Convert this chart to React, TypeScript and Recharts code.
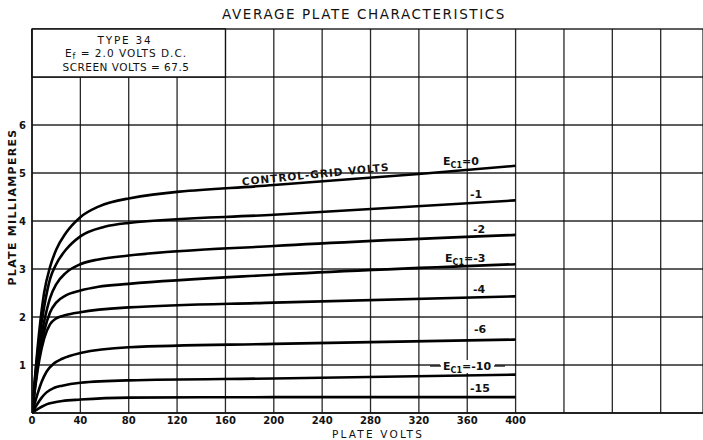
import React from 'react';
import {
  LineChart,
  Line,
  XAxis,
  YAxis,
  CartesianGrid,
  ReferenceArea,
} from 'recharts';

// plate volts / plate milliamperes
const ec0: [number, number][] = [
  [0, 0], [3, 0.9], [6, 1.7], [10, 2.5], [15, 3.05], [20, 3.4], [28, 3.75],
  [40, 4.08], [55, 4.3], [80, 4.47], [200, 4.75], [320, 4.98], [400, 5.15],
];
const ec1: [number, number][] = [
  [0, 0], [3, 0.85], [6, 1.55], [10, 2.2], [15, 2.8], [20, 3.1], [28, 3.4],
  [40, 3.68], [60, 3.88], [80, 3.96], [200, 4.13], [400, 4.43],
];
const ec2: [number, number][] = [
  [0, 0], [3, 0.75], [6, 1.35], [10, 1.9], [15, 2.4], [20, 2.68], [28, 2.92],
  [40, 3.1], [55, 3.2], [80, 3.28], [200, 3.48], [400, 3.71],
];
const ec3: [number, number][] = [
  [0, 0], [3, 0.65], [6, 1.2], [10, 1.7], [15, 2.1], [20, 2.3], [28, 2.45],
  [40, 2.55], [55, 2.63], [80, 2.69], [200, 2.88], [400, 3.1],
];
const ec4: [number, number][] = [
  [0, 0], [3, 0.6], [6, 1.1], [10, 1.55], [15, 1.85], [20, 1.97], [28, 2.04],
  [40, 2.1], [80, 2.2], [200, 2.3], [400, 2.43],
];
const ec6: [number, number][] = [
  [0, 0], [4, 0.35], [8, 0.65], [12, 0.86], [18, 1.03], [25, 1.13], [40, 1.25],
  [80, 1.37], [200, 1.44], [400, 1.53],
];
const ec10: [number, number][] = [
  [0, 0], [4, 0.17], [8, 0.32], [12, 0.43], [18, 0.52], [25, 0.57], [40, 0.63],
  [80, 0.68], [200, 0.72], [400, 0.8],
];
const ec15: [number, number][] = [
  [0, 0], [4, 0.07], [8, 0.13], [12, 0.18], [18, 0.22], [25, 0.25], [40, 0.28],
  [80, 0.32], [200, 0.33], [400, 0.33],
];

const curves = [ec0, ec1, ec2, ec3, ec4, ec6, ec10, ec15];

const xTicks = [0, 40, 80, 120, 160, 200, 240, 280, 320, 360, 400, 440, 480, 520];
const yTicks = [0, 1, 2, 3, 4, 5, 6, 7, 8];

const font = '"DejaVu Sans", sans-serif';
const ink = '#111';

const toPoints = (pts: [number, number][]) => pts.map(([v, i]) => ({ v, i }));

// E with "C1" subscript, then the rest of the label
function GridLabel({ x, y, rest }: { x: number; y: number; rest: string }) {
  return (
    <text x={x} y={y} fontFamily={font} fontSize={11} fontWeight="bold" fill={ink}>
      E
      <tspan fontSize={8} dy={3}>C1</tspan>
      <tspan dy={-3}>{rest}</tspan>
    </text>
  );
}

export default function App() {
  return (
    <div style={{ position: 'absolute', left: 0, top: 0, width: 703, height: 440, background: '#fff' }}>
      <LineChart
        width={703}
        height={440}
        margin={{ top: 29, right: 0, bottom: 0, left: 0 }}
      >
        <CartesianGrid stroke={ink} strokeWidth={1.3} strokeOpacity={0.9} />
        <XAxis
          dataKey="v"
          type="number"
          domain={[0, 555]}
          ticks={xTicks}
          allowDataOverflow
          height={27}
          axisLine={{ stroke: ink, strokeWidth: 1.5 }}
          tickLine={false}
          tickSize={2}
          tick={{ fontSize: 10, fontFamily: font, fontWeight: 'bold', fill: ink }}
          tickFormatter={(v: number) => (v <= 400 ? String(v) : '')}
        />
        <YAxis
          dataKey="i"
          type="number"
          domain={[0, 8]}
          ticks={yTicks}
          width={32}
          axisLine={{ stroke: ink, strokeWidth: 1.5 }}
          tickLine={false}
          tickSize={4}
          tick={{ fontSize: 10, fontFamily: font, fontWeight: 'bold', fill: ink }}
          tickFormatter={(v: number) => (v >= 1 && v <= 6 ? String(v) : '')}
        />
        <ReferenceArea
          x1={0}
          x2={160}
          y1={7}
          y2={8}
          fill="#fff"
          fillOpacity={1}
          stroke={ink}
          strokeWidth={1.3}
        />
        {curves.map((c, idx) => (
          <Line
            key={idx}
            data={toPoints(c)}
            dataKey="i"
            type="monotone"
            stroke="#000"
            strokeWidth={2.6}
            dot={false}
            isAnimationActive={false}
          />
        ))}
      </LineChart>

      <svg
        width={703}
        height={440}
        style={{ position: 'absolute', left: 0, top: 0, pointerEvents: 'none' }}
      >
        <text x={364} y={19} textAnchor="middle" fontFamily={font} fontSize={13.5} letterSpacing={1.6} fill={ink}>
          AVERAGE PLATE CHARACTERISTICS
        </text>
        <text x={378} y={438} textAnchor="middle" fontFamily={font} fontSize={10.5} letterSpacing={2.2} fill={ink}>
          PLATE VOLTS
        </text>
        <text
          transform="translate(16,207) rotate(-90)"
          textAnchor="middle"
          fontFamily={font}
          fontSize={11}
          fontWeight="bold"
          letterSpacing={1.3}
          fill={ink}
        >
          PLATE MILLIAMPERES
        </text>

        {/* legend box text */}
        <text x={125} y={44} textAnchor="middle" fontFamily={font} fontSize={10.5} letterSpacing={1.8} fill={ink}>
          TYPE 34
        </text>
        <text x={126} y={57} textAnchor="middle" fontFamily={font} fontSize={10.5} letterSpacing={1} fill={ink}>
          E<tspan fontSize={8} dy={2}>f</tspan>
          <tspan dy={-2}> = 2.0 VOLTS D.C.</tspan>
        </text>
        <text x={126} y={71} textAnchor="middle" fontFamily={font} fontSize={10.5} letterSpacing={0.5} fill={ink}>
          SCREEN VOLTS = 67.5
        </text>

        {/* curve labels */}
        <text
          transform="translate(316,178) rotate(-5.8)"
          textAnchor="middle"
          fontFamily={font}
          fontSize={10.5}
          fontWeight="bold"
          letterSpacing={1}
          fill={ink}
        >
          CONTROL-GRID VOLTS
        </text>
        <GridLabel x={443} y={165} rest="=0" />
        <text x={470} y={198} fontFamily={font} fontSize={11} fontWeight="bold" fill={ink}>-1</text>
        <text x={473} y={233} fontFamily={font} fontSize={11} fontWeight="bold" fill={ink}>-2</text>
        <GridLabel x={445} y={262} rest="=-3" />
        <text x={473} y={293} fontFamily={font} fontSize={11} fontWeight="bold" fill={ink}>-4</text>
        <text x={474} y={333} fontFamily={font} fontSize={11} fontWeight="bold" fill={ink}>-6</text>
        <rect x={440} y={360} width={55} height={13} fill="#fff" />
        <line x1={430} y1={366} x2={441} y2={366} stroke={ink} strokeWidth={1.3} />
        <line x1={494} y1={366} x2={505} y2={366} stroke={ink} strokeWidth={1.3} />
        <GridLabel x={443} y={370} rest="=-10" />
        <text x={470} y={392} fontFamily={font} fontSize={11} fontWeight="bold" fill={ink}>-15</text>
      </svg>
    </div>
  );
}
